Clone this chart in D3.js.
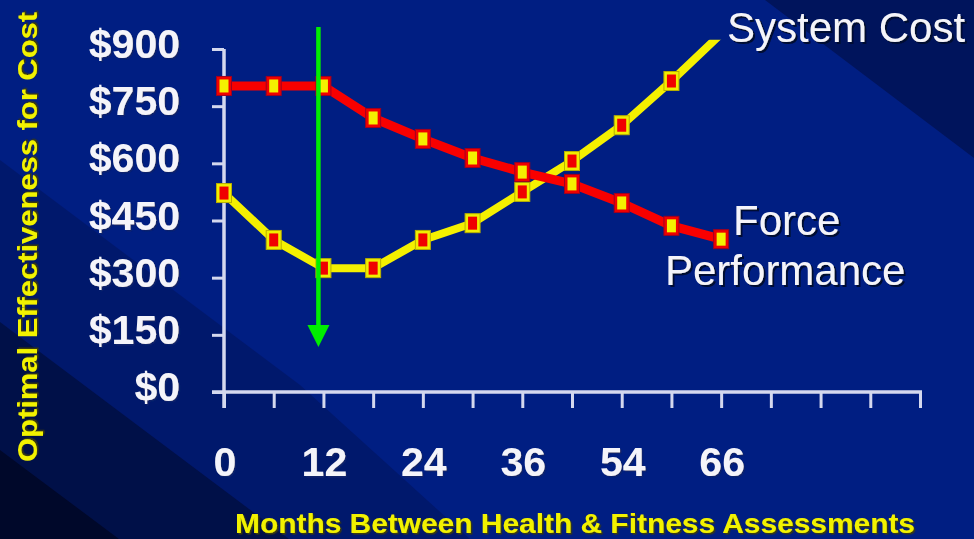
<!DOCTYPE html>
<html>
<head>
<meta charset="utf-8">
<script src="https://cdn.jsdelivr.net/npm/d3@7"></script>
<style>
  html, body { margin: 0; padding: 0; background: #001e80; }
  svg { display: block; }
  text { font-family: "Liberation Sans", Arial, sans-serif; }
</style>
</head>
<body>
<svg id="chart" width="974" height="539"></svg>
<script>
// ---- data ----
const xSlots = ["0", "", "12", "", "24", "", "36", "", "54", "", "66", "", "", "", ""];
const systemCost = [522, 399, 325, 325, 399, 443, 525, 606, 700, 816, 940];
const forcePerformance = [803, 803, 803, 719, 664, 614, 577, 546, 496, 436, 401];
const yTicks = [0, 150, 300, 450, 600, 750, 900];
const yTickLabels = ["$0", "$150", "$300", "$450", "$600", "$750", "$900"];
const arrowMonth = "12";
const yTitle = "Optimal Effectiveness for Cost";
const xTitle = "Months Between Health & Fitness Assessments";
const seriesNames = ["System Cost", "Force", "Performance"];

const svg = d3.select("#chart");
const W = 974, H = 539;

// ---- shadow filters ----
const defs = svg.append("defs");
function addShadow(id, color, d) {
  const f = defs.append("filter").attr("id", id)
    .attr("x", "-10%").attr("y", "-20%").attr("width", "130%").attr("height", "150%");
  f.append("feDropShadow").attr("dx", d).attr("dy", d).attr("stdDeviation", 0.3)
    .attr("flood-color", color).attr("flood-opacity", 1);
}
addShadow("shWhite", "#10206a", 1.5);
addShadow("shLabel", "#000830", 2);
addShadow("shYellow", "#3a3a10", 1.5);

// ---- background ----
const bg = svg.append("g");
bg.append("rect").attr("width", W).attr("height", H).attr("fill", "#001e82");
const bands = [
  { pts: [[765, 0], [974, 0], [974, 158]], fill: "#00145c" },
  { pts: [[0, 160], [300, 385], [470, 539], [0, 539]], fill: "#00186c" },
  { pts: [[0, 322], [289, 539], [0, 539]], fill: "#001048" },
  { pts: [[0, 450], [119, 539], [0, 539]], fill: "#00082a" }
];
bg.selectAll("polygon").data(bands).join("polygon")
  .attr("points", d => d.pts.map(p => p.join(",")).join(" "))
  .attr("fill", d => d.fill);

// ---- scales ----
const x = d3.scaleLinear().domain([0, xSlots.length - 1]).range([224, 920]);
const y = d3.scaleLinear().domain([0, 900]).range([392, 49]);

const axisColor = "#d4d8ee";

// ---- axes ----
const gy = svg.append("g").attr("transform", "translate(224,0)")
  .call(d3.axisLeft(y).tickValues(yTicks).tickSize(12).tickSizeOuter(0).tickFormat(""));
gy.select(".domain").remove();
gy.selectAll(".tick line").attr("stroke", axisColor).attr("stroke-width", 3);

const gx = svg.append("g").attr("transform", "translate(0,392)")
  .call(d3.axisBottom(x).tickValues(d3.range(xSlots.length)).tickSize(16).tickSizeOuter(0).tickFormat(""));
gx.select(".domain").remove();
gx.selectAll(".tick line").attr("stroke", axisColor).attr("stroke-width", 3);

svg.append("line").attr("x1", 224).attr("x2", 224).attr("y1", y(900)).attr("y2", 408)
  .attr("stroke", axisColor).attr("stroke-width", 3.5);
svg.append("line").attr("x1", 212).attr("x2", x(xSlots.length - 1) + 2).attr("y1", y(0)).attr("y2", y(0))
  .attr("stroke", axisColor).attr("stroke-width", 3.5);

// text helper (single text element with drop-shadow filter)
function label(g, o) {
  const t = g.append("text").text(o.text)
    .attr("x", o.x).attr("y", o.y)
    .attr("fill", o.fill)
    .attr("font-size", o.size).attr("font-weight", o.weight || "normal")
    .attr("text-anchor", o.anchor || "start")
    .attr("filter", `url(#${o.filter})`);
  if (o.textLength) t.attr("textLength", o.textLength).attr("lengthAdjust", "spacingAndGlyphs");
  return t;
}

// y tick labels
const ylab = svg.append("g");
yTicks.forEach((v, i) => {
  label(ylab, { text: yTickLabels[i], x: 180, y: y(v) + 9, size: 41, weight: "bold",
    fill: "#f4f4fa", anchor: "end", filter: "shWhite" });
});

// x tick labels
const xlab = svg.append("g");
xSlots.forEach((lab, i) => {
  if (!lab) return;
  label(xlab, { text: lab, x: x(i) + 1, y: 476, size: 41, weight: "bold",
    fill: "#f4f4fa", anchor: "middle", filter: "shWhite" });
});

// axis titles
const yt = svg.append("g").attr("transform", "translate(37,462) rotate(-90)");
label(yt, { text: yTitle, x: 0, y: 0, size: 28, weight: "bold", fill: "#f2f200",
  textLength: 450, filter: "shYellow" });
label(svg.append("g"), { text: xTitle, x: 235, y: 533, size: 27, weight: "bold", fill: "#f2f200",
  textLength: 680, filter: "shYellow" });

// ---- lines ----
defs.append("clipPath").attr("id", "plotclip")
  .append("rect").attr("x", 200).attr("y", y(924)).attr("width", 760).attr("height", 400);

const line = d3.line().x((d, i) => x(i)).y(d => y(d));
const mw = 15, mh = 19, iw = 9, ih = 13;

// System Cost (yellow)
const gc = svg.append("g");
gc.append("path").datum(systemCost).attr("d", line)
  .attr("fill", "none").attr("stroke", "#f4f000").attr("stroke-width", 8)
  .attr("stroke-linejoin", "round").attr("clip-path", "url(#plotclip)");
const cm = gc.selectAll("g.m").data(systemCost.slice(0, 10)).join("g").attr("class", "m");
cm.append("rect").attr("x", (d, i) => x(i) - mw / 2).attr("y", d => y(d) - mh / 2)
  .attr("width", mw).attr("height", mh).attr("fill", "#f0ee00").attr("stroke", "#b8b000").attr("stroke-width", 1);
cm.append("rect").attr("x", (d, i) => x(i) - iw / 2).attr("y", d => y(d) - ih / 2)
  .attr("width", iw).attr("height", ih).attr("fill", "#f00000");

// Force Performance (red)
const gf = svg.append("g");
gf.append("path").datum(forcePerformance).attr("d", line)
  .attr("fill", "none").attr("stroke", "#f80000").attr("stroke-width", 9)
  .attr("stroke-linejoin", "round");
const fm = gf.selectAll("g.m").data(forcePerformance).join("g").attr("class", "m");
fm.append("rect").attr("x", (d, i) => x(i) - mw / 2).attr("y", d => y(d) - mh / 2)
  .attr("width", mw).attr("height", mh).attr("fill", "#f00000").attr("stroke", "#a00020").attr("stroke-width", 1);
fm.append("rect").attr("x", (d, i) => x(i) - iw / 2).attr("y", d => y(d) - ih / 2)
  .attr("width", iw).attr("height", ih).attr("fill", "#f4f000");

// series labels
const sl = svg.append("g");
label(sl, { text: seriesNames[0], x: 727, y: 42, size: 42, fill: "#f4f4fa", filter: "shLabel" });
label(sl, { text: seriesNames[1], x: 733, y: 235, size: 42, fill: "#f4f4fa", filter: "shLabel" });
label(sl, { text: seriesNames[2], x: 665, y: 285, size: 42, fill: "#f4f4fa", filter: "shLabel" });

// ---- green arrow ----
const ax = x(xSlots.indexOf(arrowMonth)) - 5;
const ga = svg.append("g");
ga.append("line").attr("x1", ax).attr("x2", ax).attr("y1", 27).attr("y2", 330)
  .attr("stroke", "#00ee00").attr("stroke-width", 4.5);
ga.append("polygon")
  .attr("points", [[ax - 11, 325], [ax + 11, 325], [ax, 347]].map(p => p.join(",")).join(" "))
  .attr("fill", "#00ee00");
</script>
</body>
</html>
